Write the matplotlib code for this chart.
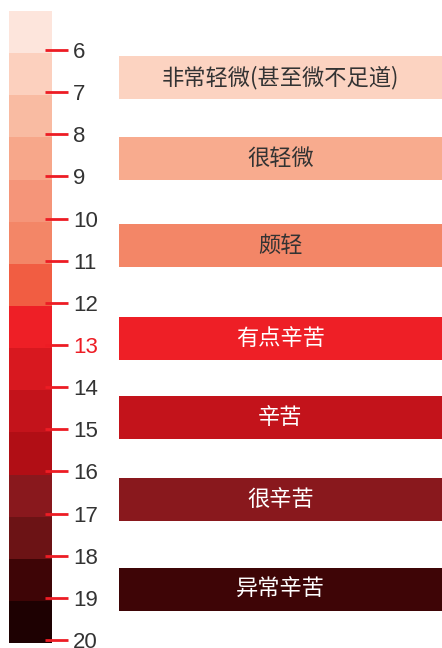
import numpy as np
import matplotlib.pyplot as plt

plt.rcParams['font.family'] = ['Noto Sans CJK SC', 'DejaVu Sans']

# Borg RPE 6-20
ticks = list(range(6, 21))
seg_colors = ['#FDE5DC', '#FCD0BE', '#F9BBA2', '#F7A78A', '#F59579',
              '#F38667', '#F15D42', '#EE1F26', '#D8181F', '#C3131B',
              '#B10E15', '#89181D', '#6C1315', '#3E0506', '#1E0102']
seg_start = [5.075 + k for k in range(15)]

labels = ['非常轻微(甚至微不足道)', '很轻微', '颇轻', '有点辛苦',
          '辛苦', '很辛苦', '异常辛苦']
label_pos = [6.65, 8.57, 10.64, 12.84, 14.72, 16.66, 18.80]
label_colors = ['#FCD3C1', '#F8AB8E', '#F38667', '#EE1F26',
                '#C3131B', '#89181D', '#3E0506']
text_colors = ['#333333'] * 3 + ['white'] * 4

fig = plt.figure(figsize=(4.42, 6.48), dpi=100)
ax = fig.add_axes([0, 0, 1, 1])
ax.set_xlim(0, 442)
ax.set_ylim(20 + 8 / 42.14, 6 - 50 / 42.14)
ax.axis('off')

# colour scale
ax.bar(30.5, 1, bottom=seg_start, width=43, color=seg_colors, align='center')

# ticks
ax.hlines(ticks, 45, 68, color='#ED1C24', lw=2)
for t in ticks:
    c = '#ED1C24' if t == 13 else '#333333'
    ax.text(73, t + 0.19, str(t), va='baseline', ha='left', fontsize=16,
            color=c, family=['Liberation Sans', 'DejaVu Sans'])

# category bands
ax.barh(label_pos, 323, left=119, height=1.02, color=label_colors)
for p, lab, tc in zip(label_pos, labels, text_colors):
    ax.text(280.5, p, lab, ha='center', va='center', fontsize=16, color=tc)

fig.savefig('out.png', dpi=100)
